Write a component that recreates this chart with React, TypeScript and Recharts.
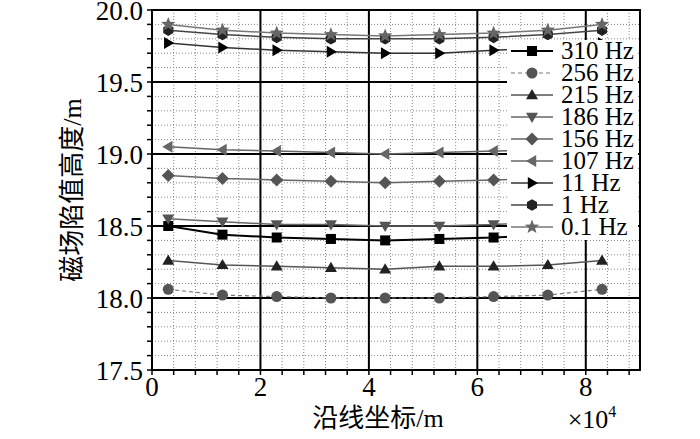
import React from 'react';
import { LineChart, Line, XAxis, YAxis, CartesianGrid, Legend, ReferenceArea, Label } from 'recharts';

// positions along the line (×10^4 m)
const xs = [0.3, 1.3, 2.3, 3.3, 4.3, 5.3, 6.3, 7.3, 8.3];

const hz310 = [18.5, 18.44, 18.42, 18.41, 18.4, 18.41, 18.42, 18.44, 18.5];
const hz256 = [18.06, 18.02, 18.01, 18.0, 18.0, 18.0, 18.01, 18.02, 18.06];
const hz215 = [18.26, 18.23, 18.22, 18.21, 18.2, 18.22, 18.22, 18.23, 18.26];
const hz186 = [18.55, 18.53, 18.51, 18.51, 18.5, 18.5, 18.51, 18.53, 18.55];
const hz156 = [18.85, 18.83, 18.82, 18.81, 18.8, 18.81, 18.82, 18.83, 18.85];
const hz107 = [19.05, 19.03, 19.02, 19.01, 19.0, 19.01, 19.02, 19.03, 19.05];
const hz11 = [19.77, 19.74, 19.72, 19.71, 19.7, 19.7, 19.72, 19.74, 19.77];
const hz1 = [19.86, 19.83, 19.81, 19.8, 19.8, 19.8, 19.81, 19.83, 19.86];
const hz01 = [19.9, 19.86, 19.84, 19.83, 19.82, 19.83, 19.84, 19.86, 19.9];

const xTicks = [0, 0.4, 0.8, 1.2, 1.6, 2, 2.4, 2.8, 3.2, 3.6, 4, 4.4, 4.8, 5.2, 5.6, 6, 6.4, 6.8, 7.2, 7.6, 8, 8.4, 8.8];
const xMajor = [2, 4, 6, 8];
const yTicks = [17.5, 17.6, 17.7, 17.8, 17.9, 18.0, 18.1, 18.2, 18.3, 18.4, 18.5, 18.6, 18.7, 18.8, 18.9, 19.0, 19.1, 19.2, 19.3, 19.4, 19.5, 19.6, 19.7, 19.8, 19.9, 20.0];
const yMajor = [18.0, 18.5, 19.0, 19.5];

type Kind = 'square' | 'circle' | 'up' | 'down' | 'diamond' | 'left' | 'right' | 'hex' | 'star';

const series: { key: string; name: string; values: number[]; kind: Kind; color: string; line: string; width: number; dash?: string }[] = [
  { key: 's310', name: '310 Hz', values: hz310, kind: 'square', color: '#000', line: '#000', width: 2 },
  { key: 's256', name: '256 Hz', values: hz256, kind: 'circle', color: '#555', line: '#777', width: 1.2, dash: '4 3' },
  { key: 's215', name: '215 Hz', values: hz215, kind: 'up', color: '#222', line: '#555', width: 1.5 },
  { key: 's186', name: '186 Hz', values: hz186, kind: 'down', color: '#555', line: '#666', width: 1.5 },
  { key: 's156', name: '156 Hz', values: hz156, kind: 'diamond', color: '#555', line: '#666', width: 1.5 },
  { key: 's107', name: '107 Hz', values: hz107, kind: 'left', color: '#666', line: '#666', width: 1.5 },
  { key: 's11', name: '11 Hz', values: hz11, kind: 'right', color: '#000', line: '#333', width: 1.5 },
  { key: 's1', name: '1 Hz', values: hz1, kind: 'hex', color: '#222', line: '#444', width: 1.5 },
  { key: 's01', name: '0.1 Hz', values: hz01, kind: 'star', color: '#666', line: '#777', width: 1.5 },
];

const data = xs.map((x, i) => {
  const row: Record<string, number> = { x };
  series.forEach(s => { row[s.key] = s.values[i]; });
  return row;
});

const serif = 'Liberation Serif, DejaVu Serif, serif';
const cjk = 'Liberation Serif, Noto Sans CJK SC, serif';

function Marker({ cx, cy, kind, fill }: { cx: number; cy: number; kind: Kind; fill: string }) {
  const r = 6;
  switch (kind) {
    case 'square':
      return <rect x={cx - 5} y={cy - 5} width={10} height={10} fill={fill} />;
    case 'circle':
      return <circle cx={cx} cy={cy} r={5.5} fill={fill} />;
    case 'up':
      return <polygon points={`${cx},${cy - r} ${cx + r},${cy + r * 0.7} ${cx - r},${cy + r * 0.7}`} fill={fill} />;
    case 'down':
      return <polygon points={`${cx},${cy + r} ${cx + r},${cy - r * 0.7} ${cx - r},${cy - r * 0.7}`} fill={fill} />;
    case 'left':
      return <polygon points={`${cx - r},${cy} ${cx + r * 0.7},${cy - r} ${cx + r * 0.7},${cy + r}`} fill={fill} />;
    case 'right':
      return <polygon points={`${cx + r},${cy} ${cx - r * 0.7},${cy - r} ${cx - r * 0.7},${cy + r}`} fill={fill} />;
    case 'diamond':
      return <polygon points={`${cx},${cy - 6.5} ${cx + 6.5},${cy} ${cx},${cy + 6.5} ${cx - 6.5},${cy}`} fill={fill} />;
    case 'hex': {
      const pts = [0, 1, 2, 3, 4, 5].map(k => {
        const a = (Math.PI / 3) * k + Math.PI / 6;
        return `${cx + 5.8 * Math.cos(a)},${cy + 5.8 * Math.sin(a)}`;
      });
      return <polygon points={pts.join(' ')} fill={fill} />;
    }
    case 'star': {
      const pts: string[] = [];
      for (let k = 0; k < 10; k++) {
        const rr = k % 2 === 0 ? 7.5 : 3.2;
        const a = -Math.PI / 2 + (Math.PI / 5) * k;
        pts.push(`${cx + rr * Math.cos(a)},${cy + rr * Math.sin(a)}`);
      }
      return <polygon points={pts.join(' ')} fill={fill} />;
    }
  }
  return null;
}

const LegendBox = () => (
  <div style={{ background: '#fff', padding: '0 0 2px 2px', fontFamily: serif, fontSize: 25, lineHeight: '22px', color: '#000' }}>
    {series.map(s => (
      <div key={s.key} style={{ display: 'flex', alignItems: 'center', height: 22, overflow: 'visible' }}>
        <svg width={48} height={22} style={{ flex: 'none' }}>
          <line x1={2} y1={11} x2={44} y2={11} stroke={s.line} strokeWidth={s.width} strokeDasharray={s.dash} />
          <Marker cx={23} cy={11} kind={s.kind} fill={s.color} />
        </svg>
        <span style={{ marginLeft: 4, whiteSpace: 'nowrap' }}>{s.name}</span>
      </div>
    ))}
  </div>
);

const xTickFmt = (v: number) => {
  const r = Math.round(v);
  return Math.abs(v - r) < 1e-6 && r % 2 === 0 ? String(r) : '';
};
const yTickFmt = (v: number) => {
  const t = Math.round(v * 10);
  return t % 5 === 0 ? v.toFixed(1) : '';
};

export default function App() {
  return (
    <div style={{ position: 'absolute', left: 0, top: 0, background: '#fff' }}>
      <LineChart width={700} height={439} data={data} margin={{ top: 10, right: 60, bottom: 0, left: 0 }}>
        <CartesianGrid horizontalValues={yTicks} verticalValues={xTicks} stroke="#888" strokeDasharray="1 2" strokeWidth={1} />
        <CartesianGrid horizontalValues={yMajor} verticalValues={xMajor} stroke="#000" strokeWidth={2} />
        <XAxis
          type="number"
          dataKey="x"
          domain={[0, 9]}
          ticks={xTicks}
          interval={0}
          tickFormatter={xTickFmt}
          height={69}
          tickSize={5}
          tickMargin={2}
          axisLine={{ stroke: '#000', strokeWidth: 2 }}
          tickLine={{ stroke: '#000', strokeWidth: 1.5 }}
          tick={{ fill: '#000', fontFamily: serif, fontSize: 27 }}
        >
          <Label
            content={() => (
              <g>
                <text x={378} y={427} textAnchor="middle" fontFamily={cjk} fontSize={26} fill="#000">沿线坐标/m</text>
                <text x={592} y={428} textAnchor="middle" fontFamily={serif} fontSize={26} fill="#000">
                  ×10<tspan fontSize={16} dy={-11}>4</tspan>
                </text>
              </g>
            )}
          />
        </XAxis>
        <YAxis
          type="number"
          domain={[17.5, 20]}
          ticks={yTicks}
          interval={0}
          tickFormatter={yTickFmt}
          width={152}
          tickSize={5}
          tickMargin={4}
          axisLine={{ stroke: '#000', strokeWidth: 2 }}
          tickLine={{ stroke: '#000', strokeWidth: 1.5 }}
          tick={{ fill: '#000', fontFamily: serif, fontSize: 27 }}
        >
          <Label
            content={() => (
              <text x={81} y={190} transform="rotate(-90 81 190)" textAnchor="middle" fontFamily={cjk} fontSize={26} fill="#000">
                磁场陷值高度/m
              </text>
            )}
          />
        </YAxis>
        {series.map(s => (
          <Line
            key={s.key}
            dataKey={s.key}
            name={s.name}
            type="linear"
            stroke={s.line}
            strokeWidth={s.width}
            strokeDasharray={s.dash}
            isAnimationActive={false}
            dot={(p: any) => <Marker key={`${s.key}-${p.index}`} cx={p.cx} cy={p.cy} kind={s.kind} fill={s.color} />}
            activeDot={false}
          />
        ))}
        <ReferenceArea x1={0} x2={9} y1={17.5} y2={20} fill="none" stroke="#000" strokeWidth={2} ifOverflow="visible" />
        <Legend
          layout="horizontal"
          verticalAlign="middle"
          align="center"
          content={<LegendBox />}
          wrapperStyle={{ left: 507, top: 40, width: 131 }}
        />
      </LineChart>
    </div>
  );
}
